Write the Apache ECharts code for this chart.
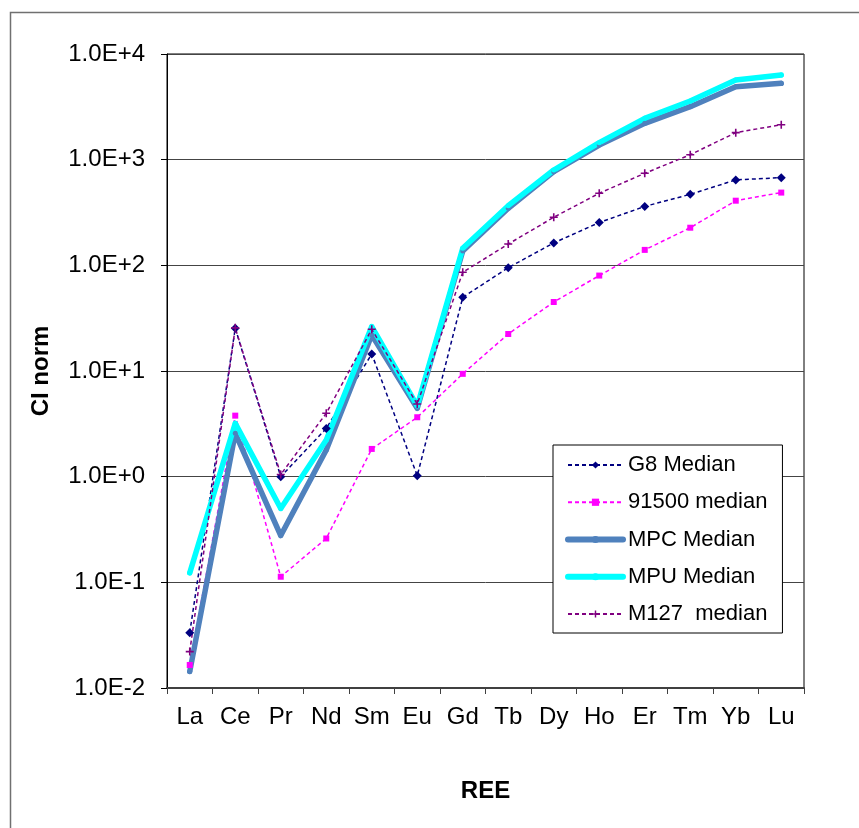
<!DOCTYPE html>
<html>
<head>
<meta charset="utf-8">
<script src="https://cdn.jsdelivr.net/npm/echarts@6/dist/echarts.min.js"></script>
<style>
html,body{margin:0;padding:0;background:#fff;}
#chart{width:859px;height:828px;}
</style>
</head>
<body>
<div id="chart"></div>
<script>
const categories = ['La','Ce','Pr','Nd','Sm','Eu','Gd','Tb','Dy','Ho','Er','Tm','Yb','Lu'];
const g8Median    = [0.0334, 25.4, 1.0, 2.86, 14.5, 1.02, 49.8, 95, 163, 254, 361, 470, 643, 676];
const m91500      = [0.0165, 3.78, 0.113, 0.26, 1.83, 3.65, 9.4, 22.4, 45, 80, 140, 227, 409, 488];
const mpcMedian   = [0.0143, 2.57, 0.277, 1.79, 21.9, 4.44, 137, 347, 770, 1376, 2208, 3171, 4907, 5276];
const mpuMedian   = [0.123, 3.2, 0.5, 2.22, 26.3, 4.67, 145, 367, 798, 1448, 2463, 3590, 5675, 6330];
const m127Median  = [0.0221, 25.6, 1.05, 3.98, 24.8, 4.87, 86, 159, 285, 481, 743, 1114, 1802, 2143];
const seriesNames = ['G8 Median','91500 median','MPC Median','MPU Median','M127  median'];

const FONT = '"Liberation Sans", Arial, sans-serif';
const chart = echarts.init(document.getElementById('chart'), null, {renderer:'canvas'});
const plusPath = 'path://M4,0h2v4h4v2h-4v4h-2v-4h-4v-2h4z';

chart.setOption({
  animation: false,
  backgroundColor: '#fff',
  textStyle: {fontFamily: FONT, color: '#000'},
  graphic: [{
    type: 'rect', left: 8, top: 10, silent: true,
    shape: {width: 900, height: 900},
    style: {fill: 'none', stroke: '#707070', lineWidth: 1.5}
  }],
  grid: {left: 167, top: 54, right: 55, bottom: 140, show: true, borderColor: '#000', borderWidth: 1, backgroundColor: 'transparent'},
  legend: {
    orient: 'vertical', left: 553, top: 445,
    backgroundColor: '#fff', borderColor: '#000', borderWidth: 1,
    padding: [9, 15, 8, 12],
    itemWidth: 55, itemHeight: 9, itemGap: 15.25,
    textStyle: {fontFamily: FONT, fontSize: 22, color: '#000', lineHeight: 22},
    data: [
      {name: seriesNames[0]},
      {name: seriesNames[1]},
      {name: seriesNames[2], lineStyle: {width: 6, cap: 'round'}},
      {name: seriesNames[3], lineStyle: {width: 6, cap: 'round'}},
      {name: seriesNames[4]}
    ]
  },
  xAxis: {
    type: 'category', data: categories, boundaryGap: true,
    name: 'REE', nameLocation: 'middle', nameGap: 91,
    nameTextStyle: {fontFamily: FONT, fontSize: 24, fontWeight: 'bold', color: '#000'},
    axisLine: {lineStyle: {color: '#404040', width: 2}},
    axisTick: {show: true, alignWithLabel: false, length: 6, lineStyle: {color: '#404040', width: 1}},
    axisLabel: {fontFamily: FONT, fontSize: 24, color: '#000', margin: 17, interval: 0},
    splitLine: {show: false}
  },
  yAxis: {
    type: 'log', logBase: 10, min: 0.01, max: 10000, interval: 1,
    name: 'CI norm', nameLocation: 'middle', nameGap: 114,
    nameTextStyle: {fontFamily: FONT, fontSize: 24, fontWeight: 'bold', color: '#000'},
    axisLine: {show: true, lineStyle: {color: '#000', width: 1}},
    axisTick: {show: true, length: 6, lineStyle: {color: '#000'}},
    minorTick: {show: false},
    axisLabel: {fontFamily: FONT, fontSize: 24, color: '#000', margin: 22,
      formatter: v => Number(v).toExponential(1).toUpperCase()},
    splitLine: {show: true, lineStyle: {color: '#444', width: 1}}
  },
  series: [
    {name: seriesNames[0], type: 'line', data: g8Median, symbol: 'diamond', symbolSize: 9,
     itemStyle: {color: '#000080'}, lineStyle: {color: '#000080', width: 1.5, type: [4, 3]}},
    {name: seriesNames[1], type: 'line', data: m91500, symbol: 'rect', symbolSize: 6,
     itemStyle: {color: '#FF00FF'}, lineStyle: {color: '#FF00FF', width: 1.5, type: [4, 3]}},
    {name: seriesNames[2], type: 'line', data: mpcMedian, symbol: 'circle', symbolSize: 5,
     itemStyle: {color: '#4F81BD'}, lineStyle: {color: '#4F81BD', width: 5.5, cap: 'round', join: 'round'}},
    {name: seriesNames[3], type: 'line', data: mpuMedian, symbol: 'circle', symbolSize: 5,
     itemStyle: {color: '#00FFFF'}, lineStyle: {color: '#00FFFF', width: 5.5, cap: 'round', join: 'round'}},
    {name: seriesNames[4], type: 'line', data: m127Median, symbol: plusPath, symbolSize: 8,
     itemStyle: {color: '#800080'}, lineStyle: {color: '#800080', width: 1.5, type: [4, 3]}}
  ]
});
</script>
</body>
</html>
